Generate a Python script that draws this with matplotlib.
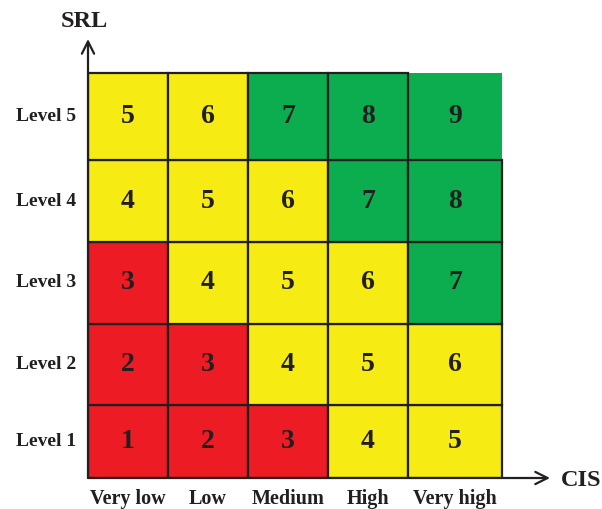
import matplotlib
matplotlib.use("Agg")
import matplotlib.pyplot as plt

cis_labels = ["Very low", "Low", "Medium", "High", "Very high"]
srl_labels = ["Level 1", "Level 2", "Level 3", "Level 4", "Level 5"]
# score = rows (Level 1..5) x columns (Very low..Very high)
scores = [
    [1, 2, 3, 4, 5],
    [2, 3, 4, 5, 6],
    [3, 4, 5, 6, 7],
    [4, 5, 6, 7, 8],
    [5, 6, 7, 8, 9],
]
col_widths = [1, 1, 1, 1, 1.18]
row_heights = [0.905, 1.0, 1.01, 1.005, 1.08]

RED = "#ED1C24"
YELLOW = "#F6EC13"
GREEN = "#0BAD4F"
INK = "#231F20"


def zone_color(v):
    if v <= 3:
        return RED
    if v <= 6:
        return YELLOW
    return GREEN


plt.rcParams["font.family"] = ["Liberation Serif", "DejaVu Serif"]
plt.rcParams["font.weight"] = "bold"

fig = plt.figure(figsize=(6.02, 5.09), dpi=100)
ax = fig.add_axes([88 / 602, 31 / 509, 462 / 602, 439 / 509])

nrows = len(row_heights)
ncols = len(col_widths)
lefts = [sum(col_widths[:i]) for i in range(ncols)]
bottoms = [sum(row_heights[:i]) for i in range(nrows)]
for r, row in enumerate(scores):
    for c, v in enumerate(row):
        # the top-right cell has no outer border in the original
        lw = 0 if (r == nrows - 1 and c == ncols - 1) else 1.6
        ax.bar(lefts[c], row_heights[r], width=col_widths[c], bottom=bottoms[r],
               align="edge", color=zone_color(v), edgecolor=INK, linewidth=lw,
               zorder=1 if lw == 0 else 2)
        ax.text(lefts[c] + col_widths[c] / 2, bottoms[r] + row_heights[r] / 2,
                str(v), ha="center", va="center", fontsize=20,
                fontweight="bold", color=INK, zorder=3)

for r, lab in enumerate(srl_labels):
    ax.text(-0.52, bottoms[r] + row_heights[r] / 2, lab, ha="center",
            va="center", fontsize=14, fontweight="bold", color=INK)
for c, lab in enumerate(cis_labels):
    ax.text(lefts[c] + col_widths[c] / 2, -0.26, lab, ha="center", va="center",
            fontsize=14.5, fontweight="bold", color=INK)

xmax = 5.775
ymax = 5.42
ax.set_xlim(0, xmax)
ax.set_ylim(0, ymax)
ax.axis("off")

arrow = dict(arrowstyle="->", color=INK, lw=1.6, mutation_scale=22,
             shrinkA=0, shrinkB=0)
ax.annotate("", xy=(xmax, 0), xytext=(0, 0), arrowprops=arrow, zorder=4,
            annotation_clip=False)
ax.annotate("", xy=(0, ymax), xytext=(0, 0), arrowprops=arrow, zorder=4,
            annotation_clip=False)

ax.text(-0.04, 5.64, "SRL", ha="center", va="center", fontsize=17.5,
        fontweight="bold", color=INK, clip_on=False)
ax.text(6.17, -0.03, "CIS", ha="center", va="center", fontsize=17.5,
        fontweight="bold", color=INK, clip_on=False)

fig.savefig("out.png", dpi=100)
